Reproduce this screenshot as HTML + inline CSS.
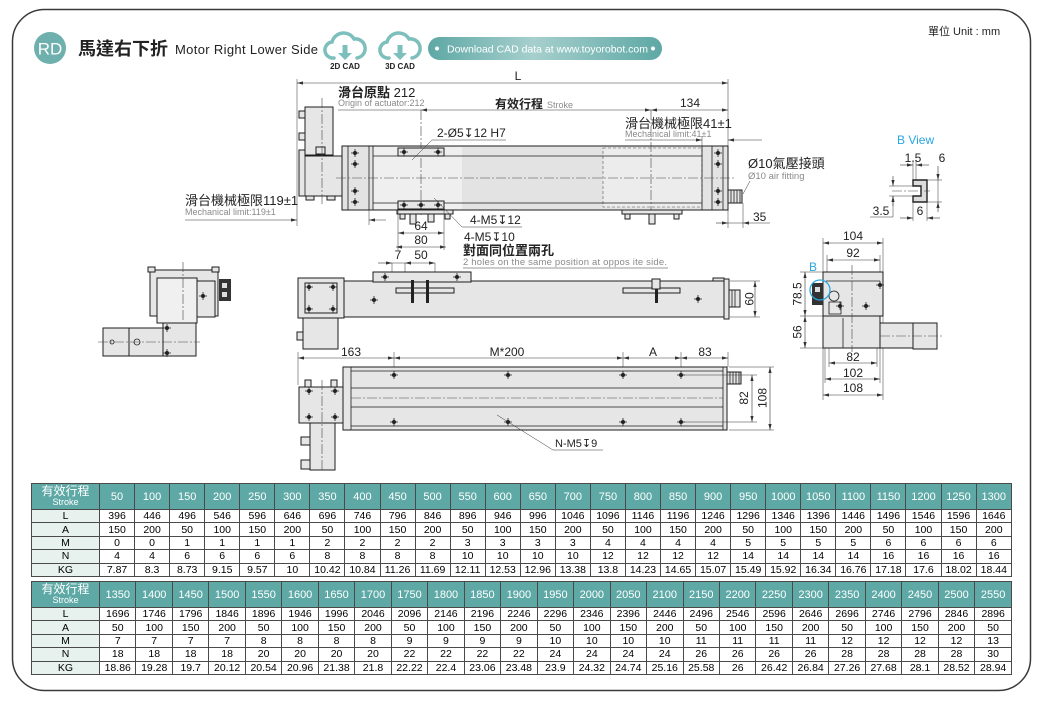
<!DOCTYPE html>
<html><head><meta charset="utf-8">
<style>
html,body{margin:0;padding:0;background:#fff;width:1044px;height:705px;overflow:hidden;position:relative}
svg{position:absolute;left:0;top:0}
table{position:absolute;left:31px;width:981px;border-collapse:collapse;table-layout:fixed;font-family:"Liberation Sans","Noto Sans CJK TC",sans-serif;font-size:10.5px;color:#000}
td{border:1px solid #4a4a4a;text-align:center;padding:0;height:12.4px;line-height:12px;white-space:nowrap;overflow:hidden}
tr.h td{background:#5ea9a6;color:#fff;font-size:11px;height:25px}
td.f{background:#e7f2ef;font-size:10.5px}
tr.h td.f{background:#5ea9a6;line-height:11px;font-size:12px}
tr.h td.f span{display:block;font-size:9px;line-height:10px}
</style></head><body>
<svg width="1044" height="705" font-family="Liberation Sans, DejaVu Sans, Noto Sans CJK TC, sans-serif">
<defs>
<marker id="a" markerWidth="6" markerHeight="4" refX="6" refY="2" orient="auto-start-reverse" markerUnits="userSpaceOnUse"><path d="M0,0.4 L6,2 L0,3.6Z" fill="#333"/></marker>
<linearGradient id="pg" x1="0" x2="1" y1="0" y2="0"><stop offset="0" stop-color="#5ea8a5"/><stop offset="0.45" stop-color="#a6cfcd"/><stop offset="1" stop-color="#5ea8a5"/></linearGradient>
<g id="s"><circle r="2" fill="#222"/><path d="M-4,0H4M0,-4V4" stroke="#222" stroke-width=".8"/></g>
<style>
.o{fill:#e6e6e6;stroke:#1e1e1e;stroke-width:1}
.k{fill:none;stroke:#1e1e1e;stroke-width:.8}
.c{fill:none;stroke:#444;stroke-width:.6;stroke-dasharray:10 2 2 2}
.d{fill:none;stroke:#333;stroke-width:.6;marker-start:url(#a);marker-end:url(#a)}
.de{fill:none;stroke:#333;stroke-width:.6;marker-end:url(#a)}
.e{fill:none;stroke:#333;stroke-width:.5}
text{fill:#222}
.g{fill:#8a8a8a}
.b{fill:#29a6e2}
</style>
</defs>

<rect x="12.5" y="9.5" width="1018" height="681" rx="32" fill="none" stroke="#3a3a3a" stroke-width="1.5"/>

<!-- header -->
<circle cx="50" cy="48" r="16" fill="#6db0ad"/>
<text x="50" y="54.5" font-size="17" fill="#fff" style="fill:#fff" text-anchor="middle">RD</text>
<text x="78" y="55" font-size="18" font-weight="bold" fill="#333">馬達右下折</text>
<text x="175" y="54" font-size="13" textLength="143" fill="#333">Motor Right Lower Side</text>
<g transform="translate(325,28)">
<path d="M9,30 A8,8 0 0 1 7,14 A12,12 0 0 1 29,11 A8.5,8.5 0 0 1 32,30" fill="none" stroke="#7dbfbc" stroke-width="3.5" stroke-linecap="round"/>
<rect x="17.5" y="17" width="5" height="9" fill="#7dbfbc"/><path d="M13,25H27L20,32Z" fill="#7dbfbc"/>
</g>
<text x="345" y="69" font-size="8" font-weight="bold" text-anchor="middle">2D CAD</text>
<g transform="translate(380,28)">
<path d="M9,30 A8,8 0 0 1 7,14 A12,12 0 0 1 29,11 A8.5,8.5 0 0 1 32,30" fill="none" stroke="#7dbfbc" stroke-width="3.5" stroke-linecap="round"/>
<rect x="17.5" y="17" width="5" height="9" fill="#7dbfbc"/><path d="M13,25H27L20,32Z" fill="#7dbfbc"/>
</g>
<text x="400" y="69" font-size="8" font-weight="bold" text-anchor="middle">3D CAD</text>
<rect x="428" y="37" width="234" height="23" rx="11.5" fill="url(#pg)"/>
<circle cx="437" cy="48.5" r="2" fill="#fff"/><circle cx="653" cy="48.5" r="2" fill="#fff"/>
<text x="447" y="52.5" font-size="10.5" textLength="201" style="fill:#fff">Download CAD data at www.toyorobot.com</text>
<text x="928" y="35" font-size="11" fill="#333">單位 Unit : mm</text>

<!-- ===== top view ===== -->
<line class="e" x1="297" y1="79" x2="297" y2="226"/>
<line class="e" x1="728" y1="79" x2="728" y2="228"/>
<line class="d" x1="297" y1="83" x2="728" y2="83"/>
<text x="518" y="80" font-size="12" text-anchor="middle">L</text>
<text x="338" y="97" font-size="13"><tspan font-weight="bold">滑台原點</tspan> 212</text>
<text x="338" y="106" font-size="9" class="g">Origin of actuator:212</text>
<line class="e" x1="338" y1="110" x2="421" y2="110"/>
<line class="d" x1="421" y1="110" x2="651" y2="110"/>
<line class="d" x1="651" y1="110" x2="728" y2="110"/>
<text x="495" y="108" font-size="12" font-weight="bold">有效行程</text>
<text x="547" y="108" font-size="9" class="g">Stroke</text>
<text x="690" y="107" font-size="12" text-anchor="middle">134</text>

<!-- motor top -->
<rect class="o" x="305" y="107" width="28" height="48"/>
<rect class="o" x="299" y="111" width="6" height="7"/>
<rect class="o" x="299" y="133" width="6" height="7"/>
<path class="o" d="M299,150H305V156H342V196H299Z"/>
<line class="k" x1="305" y1="156" x2="305" y2="196"/>
<rect class="o" x="316" y="147" width="9" height="7"/>
<rect class="o" x="306" y="196" width="8" height="4"/>
<rect class="o" x="327" y="196" width="8" height="4"/>
<line class="c" x1="322" y1="98" x2="322" y2="205"/>

<!-- body top -->
<rect class="o" x="342" y="146" width="386" height="64" style="fill:#e3e3e3"/>
<rect x="374" y="147" width="88" height="62" fill="#efefef"/>
<rect x="603" y="148" width="99" height="59" fill="#ececec" stroke="#555" stroke-width=".6" stroke-dasharray="3 2"/>
<path class="k" d="M348,146V210M369,146V210M373,146V210M702,146V210M712,146V210M723,146V210M373,156H702M373,203H702"/>
<line class="c" x1="336" y1="178" x2="736" y2="178"/>
<line class="c" x1="421" y1="110" x2="421" y2="215"/>
<line class="c" x1="651" y1="110" x2="651" y2="215"/>
<rect class="o" x="398" y="148" width="46" height="8"/>
<rect class="o" x="398" y="201" width="46" height="8"/>
<use href="#s" x="404" y="152"/><use href="#s" x="438" y="152"/>
<use href="#s" x="404" y="205"/><use href="#s" x="421" y="205"/><use href="#s" x="438" y="205"/>
<use href="#s" x="355" y="153"/><use href="#s" x="355" y="164"/><use href="#s" x="355" y="191"/><use href="#s" x="355" y="202"/>
<use href="#s" x="718" y="153"/><use href="#s" x="718" y="164"/><use href="#s" x="718" y="191"/><use href="#s" x="718" y="202"/>
<!-- bottom brackets -->
<rect class="o" x="397" y="210" width="56" height="4"/>
<rect class="o" x="400" y="214" width="5" height="5"/><rect class="o" x="445" y="214" width="5" height="5"/>
<rect class="o" x="410" y="214" width="6" height="10"/><rect class="o" x="428" y="214" width="6" height="8"/>
<rect class="o" x="622" y="210" width="60" height="4"/>
<rect class="o" x="625" y="214" width="5" height="5"/><rect class="o" x="674" y="214" width="5" height="5"/>
<rect class="o" x="649" y="214" width="6" height="10"/>
<!-- air fitting -->
<rect class="o" x="728" y="190" width="14" height="13"/>
<path class="k" d="M731,190V203M734,190V203M737,190V203M740,190V203"/>

<!-- 119 -->
<text x="185" y="205" font-size="13">滑台機械極限119±1</text>
<text x="185" y="215" font-size="9" class="g">Mechanical limit:119±1</text>
<line class="de" x1="185" y1="220" x2="297" y2="220"/>
<line class="de" x1="386" y1="220" x2="369" y2="220"/>
<line class="e" x1="369" y1="210" x2="369" y2="225"/>
<!-- 64 / 80 -->
<line class="e" x1="398" y1="210" x2="398" y2="250"/>
<line class="e" x1="444" y1="210" x2="444" y2="250"/>
<line class="d" x1="398" y1="233" x2="444" y2="233"/>
<text x="421" y="230" font-size="12" text-anchor="middle">64</text>
<line class="d" x1="396" y1="247" x2="446" y2="247"/>
<text x="421" y="244" font-size="12" text-anchor="middle">80</text>
<!-- labels -->
<line class="e" x1="412" y1="160" x2="432" y2="140"/>
<line class="e" x1="432" y1="140" x2="506" y2="140"/>
<text x="437" y="137" font-size="12">2-Ø5↧12  H7</text>
<line class="e" x1="434" y1="198" x2="462" y2="227"/>
<line class="e" x1="462" y1="227" x2="522" y2="227"/>
<text x="470" y="224" font-size="12">4-M5↧12</text>
<text x="464" y="241" font-size="12">4-M5↧10</text>
<text x="463" y="255" font-size="13" font-weight="bold">對面同位置兩孔</text>
<text x="463" y="265" font-size="9.5" class="g" textLength="204">2 holes on the same position at oppos ite side.</text>
<line class="e" x1="463" y1="268" x2="668" y2="268"/>
<text x="625" y="128" font-size="13">滑台機械極限41±1</text>
<text x="625" y="137" font-size="9" class="g">Mechanical limit:41±1</text>
<line class="de" x1="625" y1="140" x2="702" y2="140"/>
<line class="de" x1="762" y1="140" x2="728" y2="140"/>
<line class="e" x1="702" y1="136" x2="702" y2="148"/>
<text x="748" y="168" font-size="13">Ø10氣壓接頭</text>
<text x="748" y="179" font-size="9.5" class="g">Ø10 air fitting</text>
<line class="e" x1="743" y1="194" x2="750" y2="181"/>
<text x="753" y="221" font-size="12">35</text>
<line class="e" x1="743" y1="203" x2="743" y2="228"/>
<line class="de" x1="716" y1="223" x2="728" y2="223"/>
<line class="e" x1="728" y1="223" x2="743" y2="223"/>
<line class="de" x1="770" y1="223" x2="743" y2="223"/>

<!-- ===== B view ===== -->
<text x="897" y="144" class="b" font-size="12">B View</text>
<text x="913" y="162" font-size="12" text-anchor="middle">1.5</text>
<text x="942" y="162" font-size="12" text-anchor="middle">6</text>
<line class="e" x1="913" y1="160" x2="913" y2="181"/>
<line class="e" x1="916" y1="160" x2="916" y2="186"/>
<line class="de" x1="900" y1="165" x2="913" y2="165"/>
<line class="de" x1="929" y1="165" x2="916" y2="165"/>
<path d="M913,180H927V202H913V196H921V186H913Z" fill="#dcdcdc" stroke="#222" stroke-width="1.4"/>
<line class="c" x1="892" y1="191" x2="930" y2="191"/>
<line class="e" x1="927" y1="180" x2="942" y2="180"/>
<line class="e" x1="927" y1="202" x2="942" y2="202"/>
<line class="de" x1="938" y1="166" x2="938" y2="180"/>
<line class="de" x1="938" y1="212" x2="938" y2="202"/>
<line class="e" x1="938" y1="180" x2="938" y2="202"/>
<line class="e" x1="889" y1="186" x2="913" y2="186"/>
<line class="e" x1="889" y1="196" x2="913" y2="196"/>
<line class="de" x1="893" y1="176" x2="893" y2="186"/>
<line class="de" x1="893" y1="206" x2="893" y2="196"/>
<line class="e" x1="893" y1="196" x2="893" y2="217"/>
<line class="e" x1="870" y1="217" x2="893" y2="217"/>
<text x="881" y="215" font-size="12" text-anchor="middle">3.5</text>
<line class="e" x1="913" y1="202" x2="913" y2="221"/>
<line class="e" x1="927" y1="202" x2="927" y2="221"/>
<line class="de" x1="900" y1="218" x2="913" y2="218"/>
<line class="de" x1="940" y1="218" x2="927" y2="218"/>
<text x="920" y="215" font-size="12" text-anchor="middle">6</text>

<!-- ===== left side view ===== -->
<rect class="o" x="150" y="270" width="68" height="46"/>
<rect class="o" x="148" y="267" width="7" height="5"/><rect class="o" x="212" y="267" width="7" height="5"/>
<rect x="157" y="278" width="40" height="45" fill="#f0f0f0" stroke="#1e1e1e"/>
<rect class="o" x="197" y="281" width="18" height="36"/>
<rect class="o" x="163" y="323" width="33" height="33"/>
<rect class="o" x="103" y="328" width="26" height="28"/>
<rect class="o" x="129" y="328" width="34" height="28"/>
<circle cx="137" cy="342" r="3" class="k"/>
<circle cx="112" cy="342" r="2" class="k"/>
<rect x="219" y="279" width="12" height="22" fill="#333"/>
<rect x="222" y="283" width="5" height="5" fill="#ddd"/><rect x="222" y="292" width="5" height="5" fill="#ddd"/>
<line class="c" x1="98" y1="342" x2="200" y2="342"/>
<line class="c" x1="183" y1="262" x2="183" y2="322"/>
<use href="#s" x="167" y="328"/><use href="#s" x="167" y="353"/><use href="#s" x="203" y="296"/>

<!-- ===== middle side view ===== -->
<line class="e" x1="392" y1="263" x2="392" y2="292"/>
<line class="e" x1="405" y1="263" x2="405" y2="285"/>
<line class="e" x1="435" y1="263" x2="435" y2="282"/>
<line class="de" x1="378" y1="263" x2="392" y2="263"/>
<line class="d" x1="405" y1="263" x2="435" y2="263"/>
<line class="e" x1="392" y1="263" x2="405" y2="263"/>
<text x="398" y="259" font-size="12" text-anchor="middle">7</text>
<text x="421" y="259" font-size="12" text-anchor="middle">50</text>
<rect class="o" x="344" y="281" width="381" height="36"/>
<rect class="o" x="373" y="272" width="98" height="10"/>
<path class="o" d="M713,281V278H724V281Z"/>
<rect class="o" x="724" y="279" width="5" height="40"/>
<rect class="o" x="729" y="290" width="11" height="17"/>
<path class="k" d="M732,290V307M735,290V307"/>
<rect class="o" x="396" y="288" width="58" height="5"/>
<rect x="411" y="280" width="3" height="23" fill="#222"/>
<rect x="426" y="280" width="3" height="23" fill="#222"/>
<rect class="o" x="623" y="288" width="57" height="5"/>
<rect class="o" x="652" y="279" width="8" height="10"/>
<rect x="655" y="289" width="3" height="14" fill="#222"/>
<use href="#s" x="374" y="300"/><use href="#s" x="385" y="277"/><use href="#s" x="457" y="277"/><use href="#s" x="698" y="299"/>
<rect class="o" x="298" y="278" width="46" height="40"/>
<rect class="o" x="305" y="283" width="32" height="30"/>
<use href="#s" x="309" y="287"/><use href="#s" x="333" y="287"/><use href="#s" x="309" y="309"/><use href="#s" x="333" y="309"/>
<rect class="o" x="303" y="318" width="35" height="31"/>
<rect class="o" x="297" y="332" width="6" height="8"/>
<line class="e" x1="730" y1="281" x2="760" y2="281"/>
<line class="e" x1="730" y1="317" x2="760" y2="317"/>
<line class="d" x1="755" y1="281" x2="755" y2="317"/>
<text transform="translate(753.5,299) rotate(-90)" font-size="12" text-anchor="middle">60</text>

<!-- ===== bottom view ===== -->
<line class="e" x1="298" y1="352" x2="298" y2="385"/>
<line class="e" x1="394" y1="352" x2="394" y2="375"/>
<line class="e" x1="623" y1="352" x2="623" y2="375"/>
<line class="e" x1="681" y1="352" x2="681" y2="375"/>
<line class="e" x1="728" y1="352" x2="728" y2="367"/>
<line class="d" x1="298" y1="358" x2="394" y2="358"/>
<line class="d" x1="394" y1="358" x2="623" y2="358"/>
<line class="d" x1="623" y1="358" x2="681" y2="358"/>
<line class="d" x1="681" y1="358" x2="728" y2="358"/>
<text x="351" y="356" font-size="12" text-anchor="middle">163</text>
<text x="507" y="356" font-size="12" text-anchor="middle">M*200</text>
<text x="653" y="356" font-size="12" text-anchor="middle">A</text>
<text x="705" y="356" font-size="12" text-anchor="middle">83</text>
<rect class="o" x="343" y="367" width="384" height="63"/>
<path class="k" d="M351,367V430M723,367V430M351,371H723M351,388H723M351,407H723M351,426H723"/>
<line class="c" x1="351" y1="398" x2="723" y2="398"/>
<rect class="o" x="727" y="372" width="14" height="12"/>
<path class="k" d="M730,372V384M733,372V384M736,372V384M739,372V384"/>
<use href="#s" x="394" y="375"/><use href="#s" x="394" y="422"/><use href="#s" x="508" y="375"/><use href="#s" x="508" y="422"/>
<use href="#s" x="623" y="375"/><use href="#s" x="623" y="422"/><use href="#s" x="681" y="375"/><use href="#s" x="681" y="422"/>
<rect class="o" x="305" y="380" width="6" height="8"/><rect class="o" x="331" y="380" width="6" height="8"/>
<rect class="o" x="299" y="387" width="44" height="36"/>
<use href="#s" x="309" y="391"/><use href="#s" x="335" y="391"/><use href="#s" x="309" y="417"/><use href="#s" x="335" y="417"/>
<rect class="o" x="310" y="423" width="25" height="47"/>
<rect class="o" x="301" y="437" width="9" height="8"/>
<rect class="o" x="301" y="460" width="9" height="9"/>
<line class="c" x1="322" y1="380" x2="322" y2="472"/>
<line class="e" x1="683" y1="375" x2="757" y2="375"/>
<line class="e" x1="683" y1="422" x2="757" y2="422"/>
<line class="e" x1="729" y1="367" x2="774" y2="367"/>
<line class="e" x1="729" y1="430" x2="774" y2="430"/>
<line class="d" x1="752" y1="375" x2="752" y2="422"/>
<line class="d" x1="770" y1="367" x2="770" y2="430"/>
<text transform="translate(748,398) rotate(-90)" font-size="12" text-anchor="middle">82</text>
<text transform="translate(766.5,398) rotate(-90)" font-size="12" text-anchor="middle">108</text>
<line class="e" x1="497" y1="415" x2="553" y2="450"/>
<line class="e" x1="553" y1="450" x2="603" y2="450"/>
<text x="555" y="447" font-size="11">N-M5↧9</text>

<!-- ===== right end view ===== -->
<line class="e" x1="823" y1="238" x2="823" y2="400"/>
<line class="e" x1="883" y1="238" x2="883" y2="400"/>
<line class="d" x1="823" y1="243" x2="883" y2="243"/>
<text x="853" y="240" font-size="12" text-anchor="middle">104</text>
<line class="e" x1="827" y1="255" x2="827" y2="272"/>
<line class="e" x1="880" y1="255" x2="880" y2="272"/>
<line class="d" x1="827" y1="260" x2="880" y2="260"/>
<text x="853" y="257" font-size="12" text-anchor="middle">92</text>
<rect class="o" x="823" y="272" width="60" height="44"/>
<line class="k" x1="826" y1="281" x2="880" y2="281"/>
<rect class="o" x="823" y="316" width="57" height="32"/>
<line class="k" x1="843" y1="318" x2="843" y2="348"/>
<rect class="o" x="880" y="323" width="33" height="25"/>
<rect class="o" x="913" y="323" width="24" height="26"/>
<line class="c" x1="880" y1="336" x2="942" y2="336"/>
<line class="c" x1="852" y1="265" x2="852" y2="352"/>
<circle cx="834" cy="296" r="5" class="k"/>
<rect class="k" x="829" y="302" width="12" height="12"/>
<use href="#s" x="880" y="285"/><use href="#s" x="840" y="306"/><use href="#s" x="866" y="306"/>
<rect x="812" y="283" width="11" height="22" fill="#333"/>
<rect x="815" y="287" width="5" height="5" fill="#ddd"/>
<circle cx="820" cy="290" r="10" fill="none" stroke="#29a6e2" stroke-width="1.3"/>
<text x="809" y="271" class="b" font-size="12">B</text>
<line class="e" x1="800" y1="272" x2="823" y2="272"/>
<line class="e" x1="800" y1="316" x2="823" y2="316"/>
<line class="e" x1="800" y1="348" x2="823" y2="348"/>
<line class="d" x1="805" y1="272" x2="805" y2="316"/>
<line class="d" x1="805" y1="316" x2="805" y2="348"/>
<text transform="translate(801.5,294) rotate(-90)" font-size="12" text-anchor="middle">78.5</text>
<text transform="translate(801.5,332) rotate(-90)" font-size="12" text-anchor="middle">56</text>
<line class="e" x1="829" y1="348" x2="829" y2="367"/>
<line class="e" x1="877" y1="348" x2="877" y2="367"/>
<line class="d" x1="829" y1="363" x2="877" y2="363"/>
<text x="853" y="361" font-size="12" text-anchor="middle">82</text>
<line class="e" x1="825" y1="348" x2="825" y2="383"/>
<line class="e" x1="880" y1="348" x2="880" y2="383"/>
<line class="d" x1="825" y1="379" x2="880" y2="379"/>
<text x="853" y="377" font-size="12" text-anchor="middle">102</text>
<line class="d" x1="823" y1="395" x2="883" y2="395"/>
<text x="853" y="392" font-size="12" text-anchor="middle">108</text>
</svg>

<table style="top:483px">
<colgroup><col style="width:68px"></colgroup>
<tr class="h"><td class="f">有效行程<span>Stroke</span></td><td>50</td><td>100</td><td>150</td><td>200</td><td>250</td><td>300</td><td>350</td><td>400</td><td>450</td><td>500</td><td>550</td><td>600</td><td>650</td><td>700</td><td>750</td><td>800</td><td>850</td><td>900</td><td>950</td><td>1000</td><td>1050</td><td>1100</td><td>1150</td><td>1200</td><td>1250</td><td>1300</td></tr>
<tr><td class="f">L</td><td>396</td><td>446</td><td>496</td><td>546</td><td>596</td><td>646</td><td>696</td><td>746</td><td>796</td><td>846</td><td>896</td><td>946</td><td>996</td><td>1046</td><td>1096</td><td>1146</td><td>1196</td><td>1246</td><td>1296</td><td>1346</td><td>1396</td><td>1446</td><td>1496</td><td>1546</td><td>1596</td><td>1646</td></tr>
<tr><td class="f">A</td><td>150</td><td>200</td><td>50</td><td>100</td><td>150</td><td>200</td><td>50</td><td>100</td><td>150</td><td>200</td><td>50</td><td>100</td><td>150</td><td>200</td><td>50</td><td>100</td><td>150</td><td>200</td><td>50</td><td>100</td><td>150</td><td>200</td><td>50</td><td>100</td><td>150</td><td>200</td></tr>
<tr><td class="f">M</td><td>0</td><td>0</td><td>1</td><td>1</td><td>1</td><td>1</td><td>2</td><td>2</td><td>2</td><td>2</td><td>3</td><td>3</td><td>3</td><td>3</td><td>4</td><td>4</td><td>4</td><td>4</td><td>5</td><td>5</td><td>5</td><td>5</td><td>6</td><td>6</td><td>6</td><td>6</td></tr>
<tr><td class="f">N</td><td>4</td><td>4</td><td>6</td><td>6</td><td>6</td><td>6</td><td>8</td><td>8</td><td>8</td><td>8</td><td>10</td><td>10</td><td>10</td><td>10</td><td>12</td><td>12</td><td>12</td><td>12</td><td>14</td><td>14</td><td>14</td><td>14</td><td>16</td><td>16</td><td>16</td><td>16</td></tr>
<tr><td class="f">KG</td><td>7.87</td><td>8.3</td><td>8.73</td><td>9.15</td><td>9.57</td><td>10</td><td>10.42</td><td>10.84</td><td>11.26</td><td>11.69</td><td>12.11</td><td>12.53</td><td>12.96</td><td>13.38</td><td>13.8</td><td>14.23</td><td>14.65</td><td>15.07</td><td>15.49</td><td>15.92</td><td>16.34</td><td>16.76</td><td>17.18</td><td>17.6</td><td>18.02</td><td>18.44</td></tr>
</table>

<table style="top:581px">
<colgroup><col style="width:68px"></colgroup>
<tr class="h"><td class="f">有效行程<span>Stroke</span></td><td>1350</td><td>1400</td><td>1450</td><td>1500</td><td>1550</td><td>1600</td><td>1650</td><td>1700</td><td>1750</td><td>1800</td><td>1850</td><td>1900</td><td>1950</td><td>2000</td><td>2050</td><td>2100</td><td>2150</td><td>2200</td><td>2250</td><td>2300</td><td>2350</td><td>2400</td><td>2450</td><td>2500</td><td>2550</td></tr>
<tr><td class="f">L</td><td>1696</td><td>1746</td><td>1796</td><td>1846</td><td>1896</td><td>1946</td><td>1996</td><td>2046</td><td>2096</td><td>2146</td><td>2196</td><td>2246</td><td>2296</td><td>2346</td><td>2396</td><td>2446</td><td>2496</td><td>2546</td><td>2596</td><td>2646</td><td>2696</td><td>2746</td><td>2796</td><td>2846</td><td>2896</td></tr>
<tr><td class="f">A</td><td>50</td><td>100</td><td>150</td><td>200</td><td>50</td><td>100</td><td>150</td><td>200</td><td>50</td><td>100</td><td>150</td><td>200</td><td>50</td><td>100</td><td>150</td><td>200</td><td>50</td><td>100</td><td>150</td><td>200</td><td>50</td><td>100</td><td>150</td><td>200</td><td>50</td></tr>
<tr><td class="f">M</td><td>7</td><td>7</td><td>7</td><td>7</td><td>8</td><td>8</td><td>8</td><td>8</td><td>9</td><td>9</td><td>9</td><td>9</td><td>10</td><td>10</td><td>10</td><td>10</td><td>11</td><td>11</td><td>11</td><td>11</td><td>12</td><td>12</td><td>12</td><td>12</td><td>13</td></tr>
<tr><td class="f">N</td><td>18</td><td>18</td><td>18</td><td>18</td><td>20</td><td>20</td><td>20</td><td>20</td><td>22</td><td>22</td><td>22</td><td>22</td><td>24</td><td>24</td><td>24</td><td>24</td><td>26</td><td>26</td><td>26</td><td>26</td><td>28</td><td>28</td><td>28</td><td>28</td><td>30</td></tr>
<tr><td class="f">KG</td><td>18.86</td><td>19.28</td><td>19.7</td><td>20.12</td><td>20.54</td><td>20.96</td><td>21.38</td><td>21.8</td><td>22.22</td><td>22.4</td><td>23.06</td><td>23.48</td><td>23.9</td><td>24.32</td><td>24.74</td><td>25.16</td><td>25.58</td><td>26</td><td>26.42</td><td>26.84</td><td>27.26</td><td>27.68</td><td>28.1</td><td>28.52</td><td>28.94</td></tr>
</table>
</body></html>
